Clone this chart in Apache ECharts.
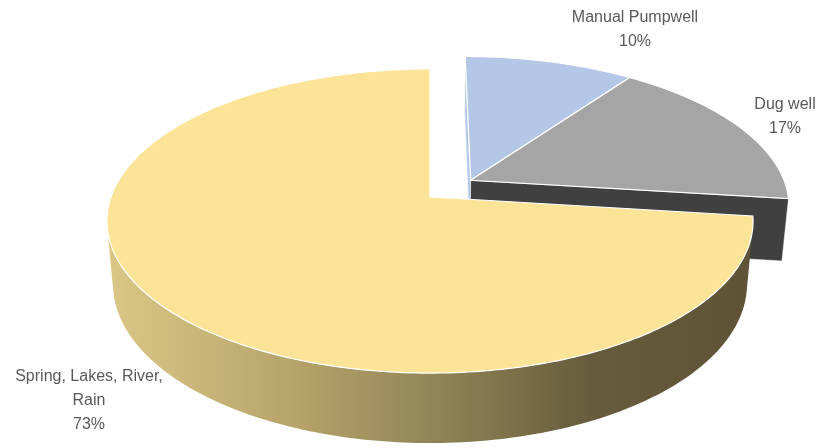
<!DOCTYPE html>
<html>
<head>
<meta charset="utf-8">
<script src="https://cdn.jsdelivr.net/npm/echarts@6/dist/echarts.min.js"></script>
<style>
html,body{margin:0;padding:0;background:#fff;}
#chart{width:827px;height:448px;}
</style>
</head>
<body>
<div id="chart"></div>
<script>
// ---- data ----
const categories = ['Manual Pumpwell', 'Dug well', 'Spring, Lakes, River, Rain'];
const values = [10, 17, 73];

// ---- styles / layout ----
const topColors = ['#b4c7e7', '#a5a5a5', '#fbe398'];
const sideColors = ['#8497b0', '#404040', null]; // null -> gradient
const cutColors = ['#b4c7e7', '#404040', '#d9c585'];
const explodeDist = [0, 0, 0.173];
const labelLayout = [[635, 30], [785, 117], [89, 401]];
const VIEW = { cx: 430, cy: 197, f: 1789, D: 5.608, tilt: 27.7 * Math.PI / 180, h: 0.2248 };

const total = values.reduce((a, b) => a + b, 0);
const starts = [], ends = [];
let cum = 0;
values.forEach(v => { starts.push(cum / total * 2 * Math.PI); cum += v; ends.push(cum / total * 2 * Math.PI); });
const offsets = values.map((v, i) => {
  const m = (starts[i] + ends[i]) / 2;
  return { x: explodeDist[i] * Math.sin(m), z: explodeDist[i] * Math.cos(m) };
});
// camera targets the centre of the exploded (largest) slice
let big = 0; values.forEach((v, i) => { if (v > values[big]) big = i; });
const O = offsets[big];

const sT = Math.sin(VIEW.tilt), cT = Math.cos(VIEW.tilt);
function proj(X, Y, Z) {
  X -= O.x; Z -= O.z;
  const yc = Y * cT + Z * sT;
  const zc = VIEW.D + Z * cT - Y * sT;
  return [VIEW.cx + VIEW.f * X / zc, VIEW.cy - VIEW.f * yc / zc];
}
function area(pts) {
  let s = 0;
  for (let i = 0; i < pts.length; i++) {
    const a = pts[i], b = pts[(i + 1) % pts.length];
    s += a[0] * b[1] - b[0] * a[1];
  }
  return s;
}

const sideGradient = new echarts.graphic.LinearGradient(107, 0, 753, 0, [
  { offset: 0, color: '#dbc786' },
  { offset: 0.3, color: '#b5a26a' },
  { offset: 0.53, color: '#8c8154' },
  { offset: 0.75, color: '#665b3b' },
  { offset: 1, color: '#5e5337' }
], true);

function renderItem(params, api) {
  const i = params.dataIndex;
  const a0 = starts[i], a1 = ends[i];
  const off = offsets[i];
  const h = VIEW.h;
  const n = Math.max(4, Math.ceil((a1 - a0) / (Math.PI / 180)));
  const topPts = [], botPts = [];
  for (let k = 0; k <= n; k++) {
    const t = a0 + (a1 - a0) * k / n;
    const X = off.x + Math.sin(t), Z = off.z + Math.cos(t);
    topPts.push(proj(X, 0, Z));
    botPts.push(proj(X, -h, Z));
  }
  const apexT = proj(off.x, 0, off.z), apexB = proj(off.x, -h, off.z);
  const children = [];
  // cut faces
  const startFace = [apexT, topPts[0], botPts[0], apexB];
  const endFace = [topPts[n], apexT, apexB, botPts[n]];
  [startFace, endFace].forEach(face => {
    if (area(face) < 0) {
      children.push({ type: 'polygon', shape: { points: face },
        style: { fill: cutColors[i], stroke: 'rgba(255,255,255,0.7)', lineWidth: 0.8 } });
    }
  });
  // outer side: visible runs
  let run = null;
  const runs = [];
  for (let k = 0; k < n; k++) {
    const q = [topPts[k], topPts[k + 1], botPts[k + 1], botPts[k]];
    if (area(q) < 0) {
      if (!run) { run = { from: k, to: k + 1 }; runs.push(run); } else run.to = k + 1;
    } else run = null;
  }
  runs.forEach(r => {
    const pts = topPts.slice(r.from, r.to + 1).concat(botPts.slice(r.from, r.to + 1).reverse());
    const fill = sideColors[i] || sideGradient;
    children.push({ type: 'polygon', shape: { points: pts }, style: { fill: fill, stroke: null } });
  });
  // top face
  children.push({ type: 'polygon', shape: { points: [apexT].concat(topPts) },
    style: { fill: topColors[i], stroke: '#ffffff', lineWidth: 1.2 } });
  // label
  const pct = Math.round(api.value(0) / total * 100);
  const name = categories[i].replace('River, ', 'River,\n');
  children.push({ type: 'text', x: labelLayout[i][0], y: labelLayout[i][1], z2: 100,
    style: { text: name + '\n' + pct + '%', fill: '#595959', align: 'center', verticalAlign: 'middle',
      font: '16px "Liberation Sans", Arial, sans-serif', lineHeight: 24 } });
  return { type: 'group', children: children };
}

const chart = echarts.init(document.getElementById('chart'), null, { renderer: 'canvas' });
chart.setOption({
  backgroundColor: '#ffffff',
  animation: false,
  series: [{
    type: 'custom',
    coordinateSystem: 'none',
    renderItem: renderItem,
    data: values.map((v, i) => ({ value: v, name: categories[i] }))
  }]
});
</script>
</body>
</html>
